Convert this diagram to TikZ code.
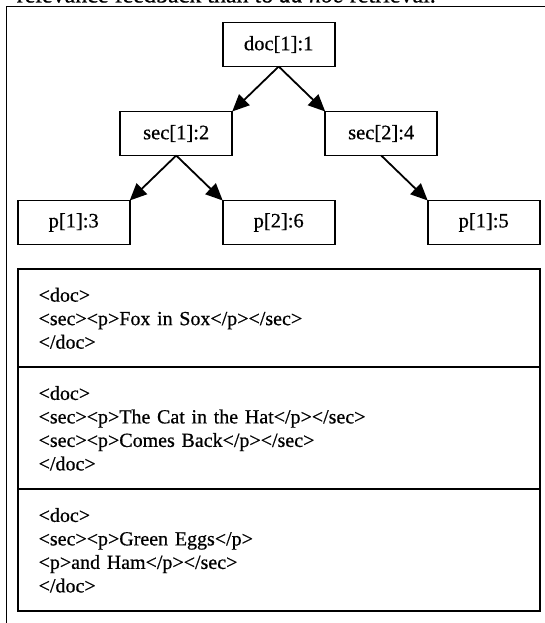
\documentclass[tikz,border=0pt]{standalone}
\usepackage{fontspec}
\setmainfont{Liberation Serif}[FakeBold=0.6]
\usetikzlibrary{arrows.meta, positioning}

\tikzset{
  elem/.style={draw, line width=1.8pt, outer sep=0pt, inner sep=0pt,
    minimum width=112pt, minimum height=44pt, font=\fontsize{20.5}{24}\selectfont},
  xmlbox/.style={draw, line width=1.8pt, outer sep=0pt, anchor=north,
    text width=480pt, inner xsep=21pt, inner ysep=0pt, align=left,
    font=\fontsize{20}{23.5}\selectfont},
  frame/.style={line width=1.4pt}
}

\begin{document}
\begin{tikzpicture}[x=1pt, y=1pt, >={Triangle[length=17pt, width=15pt]},
    node distance=89pt and 102.5pt, on grid]
  \useasboundingbox (0,0) rectangle (545,-623);
  \clip (0,0) rectangle (545,-623);
  \draw[frame] (6.7,-640) -- (6.7,-6.7) -- (560,-6.7);
  \node[anchor=base east, inner sep=0pt, font=\fontsize{24}{28}\selectfont] (intro) at (436,-2.5)
    {relevance feedback than to \textit{ad hoc} retrieval.};

  \node[elem] (doc1) at (278.7,-44.5) {doc[1]:1};
  \node[elem] (sec1) [below left=of doc1] {sec[1]:2};
  \node[elem] (sec2) [below right=of doc1] {sec[2]:4};
  \node[elem] (p13) [below left=of sec1] {p[1]:3};
  \node[elem] (p26) [below right=of sec1] {p[2]:6};
  \node[elem] (p15) [below right=of sec2] {p[1]:5};
  \path[->, line width=1.8pt]
  (doc1.south) edge (sec1.north east)
               edge (sec2.north west)
  (sec1.south) edge (p13.north east)
               edge (p26.north west)
  (sec2.south) edge (p15.north west);

  \node[xmlbox, minimum height=98pt] (xml1) at (278.65,-269.3)
    {<doc>\\<sec><p>Fox in Sox</p></sec>\\</doc>};
  \node[xmlbox, minimum height=122pt] (xml2) at (xml1.south)
    {<doc>\\<sec><p>The Cat in the Hat</p></sec>\\<sec><p>Comes Back</p></sec>\\</doc>};
  \node[xmlbox, minimum height=122pt] (xml3) at (xml2.south)
    {<doc>\\<sec><p>Green Eggs</p>\\<p>and Ham</p></sec>\\</doc>};
\end{tikzpicture}
\end{document}
